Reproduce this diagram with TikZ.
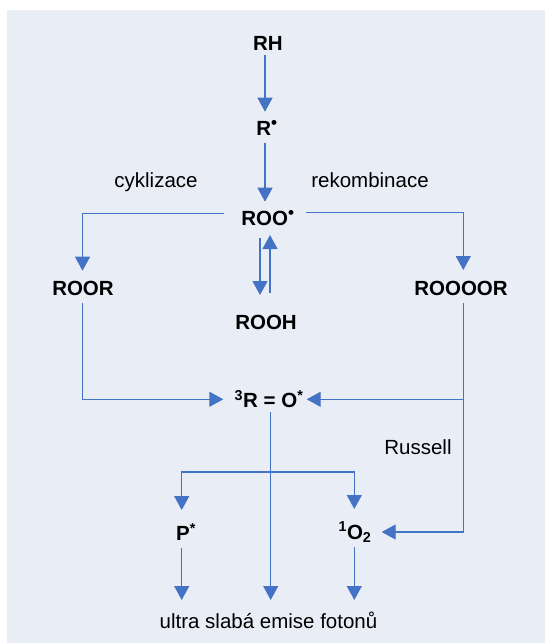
\documentclass[tikz,border=0pt]{standalone}
\usepackage{fontspec}
\setmainfont{Liberation Sans}
\usetikzlibrary{arrows.meta}
\definecolor{lineblue}{RGB}{68,114,196}
\definecolor{bgblue}{RGB}{233,238,246}
\newcommand{\radbul}{\textsuperscript{\fontsize{17}{17}\selectfont•}}
\begin{document}
\begin{tikzpicture}[x=1pt,y=-1pt,
  lbl/.style={inner sep=0pt,font=\fontsize{20.5}{24}\selectfont\bfseries},
  txt/.style={inner sep=0pt,font=\fontsize{20.5}{24}\selectfont},
  arr/.style={draw=lineblue,line width=1.2pt,-{Triangle[width=15pt,length=14pt]}},
  ln/.style={draw=lineblue,line width=1.2pt}]
\useasboundingbox (0,0) rectangle (545,643);
\fill[white] (0,0) rectangle (545,643);
\fill[bgblue] (7,10) rectangle (545,643);
% nodes
\node[lbl] (RH) at (268,43) {RH};
\node[lbl] (Rd) at (267,128) {R\radbul};
\node[lbl] (ROO) at (268,218) {ROO\radbul};
\node[txt] (cyk) at (156,182) {cyklizace};
\node[txt] (rek) at (370,180) {rekombinace};
\node[lbl] (ROOR) at (83,288) {ROOR};
\node[lbl] (ROOOOR) at (461,288) {ROOOOR};
\node[lbl] (ROOH) at (266,322) {ROOH};
\node[lbl] (RO) at (269,399.3) {\textsuperscript{3}R = O\textsuperscript{*}};
\node[txt] (rus) at (418,447) {Russell};
\node[lbl] (P) at (186,532) {P\textsuperscript{*}};
\node[lbl] (O2) at (355,532) {\textsuperscript{1}O\textsubscript{2}};
\node[txt] (ultra) at (268.5,620) {ultra slabá emise fotonů};
% connectors
\draw[arr] ([xshift=-3pt,yshift=-12pt]RH.center) -- ([xshift=-2pt,yshift=16.3pt]Rd.center);
\draw[arr] ([xshift=-2pt,yshift=-15pt]Rd.center) -- ([xshift=-3pt,yshift=16.3pt]ROO.center);
\draw[arr] ([xshift=-44pt,yshift=4.7pt]ROO.center) -| ([xshift=-0.5pt,yshift=17.3pt]ROOR.center);
\draw[arr] ([xshift=38pt,yshift=5.5pt]ROO.center) -| ([xshift=2.3pt,yshift=18pt]ROOOOR.center);
\draw[arr] ([xshift=-8pt,yshift=-20pt]ROO.center) -- ([xshift=-6pt,yshift=27pt]ROOH.center);
\draw[arr] ([xshift=4pt,yshift=29.3pt]ROOH.center) -- ([xshift=2pt,yshift=-17pt]ROO.center);
\draw[arr] ([xshift=-0.3pt,yshift=-15.3pt]ROOR.center) |- ([xshift=-45.7pt]RO.center);
\coordinate (jr) at ([xshift=2.3pt]ROOOOR.center |- RO.center);
\draw[arr] ([xshift=2.3pt,yshift=-15pt]ROOOOR.center) |- ([xshift=26.7pt]O2.center);
\draw[arr] (jr) -- ([xshift=37.7pt]RO.center);
\draw[arr] ([xshift=1.7pt,yshift=-12.4pt]RO.center) -- ([xshift=2.2pt,yshift=20pt]ultra.center);
\coordinate (sp) at ([xshift=1.7pt,yshift=-72.7pt]RO.center);
\draw[arr] (sp) -| ([xshift=-4.3pt,yshift=22pt]P.center);
\draw[arr] (sp) -| ([xshift=-0.7pt,yshift=23pt]O2.center);
\draw[arr] ([xshift=-4.3pt,yshift=-16.3pt]P.center) -- ([xshift=-86.8pt,yshift=20pt]ultra.center);
\draw[arr] ([xshift=-0.7pt,yshift=-15pt]O2.center) -- ([xshift=85.8pt,yshift=20pt]ultra.center);
\end{tikzpicture}
\end{document}
